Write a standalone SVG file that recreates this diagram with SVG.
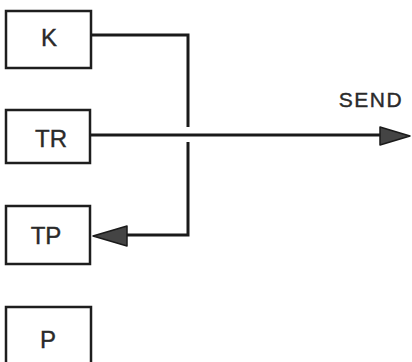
<svg xmlns="http://www.w3.org/2000/svg" width="412" height="362" viewBox="0 0 412 362">
  <style>
    .box { fill: #fff; stroke: #1e1e1e; stroke-width: 2.5; }
    .lbl { font-family: "Liberation Sans", Arial, sans-serif; font-size: 24px; fill: #2a2a2a; text-anchor: middle; stroke: #2a2a2a; stroke-width: 0.4; }
    .wire { fill: none; stroke: #1a1a1a; stroke-width: 3; stroke-linejoin: miter; }
    .head { fill: #444; stroke: #1a1a1a; stroke-width: 1.5; stroke-linejoin: round; }
  </style>
  <rect width="412" height="362" fill="#fff"/>

  <g id="node-K">
    <rect class="box" x="6" y="11" width="85" height="57"/>
    <text class="lbl" x="49" y="46">K</text>
  </g>
  <g id="node-TR">
    <rect class="box" x="6" y="110" width="84" height="53"/>
    <text class="lbl" x="51" y="147">TR</text>
  </g>
  <g id="node-TP">
    <rect class="box" x="6" y="206" width="84" height="58"/>
    <text class="lbl" x="46" y="244">TP</text>
  </g>
  <g id="node-P">
    <rect class="box" x="6" y="307" width="85" height="60"/>
    <text class="lbl" x="48" y="348">P</text>
  </g>

  <g id="connectors">
    <!-- K to TP, bridging over the TR line -->
    <polyline class="wire" points="91,35 188,35 188,127"/>
    <polyline class="wire" points="188,142 188,235 125,235"/>
    <polygon class="head" points="93,236 127,226 127,246"/>
    <!-- TR out to SEND -->
    <line class="wire" x1="90" y1="135" x2="382" y2="135"/>
    <polygon class="head" points="410,136 380,127 380,145"/>
    <text class="lbl" x="371" y="107" style="font-size:21px; letter-spacing:1.5px">SEND</text>
  </g>
</svg>
